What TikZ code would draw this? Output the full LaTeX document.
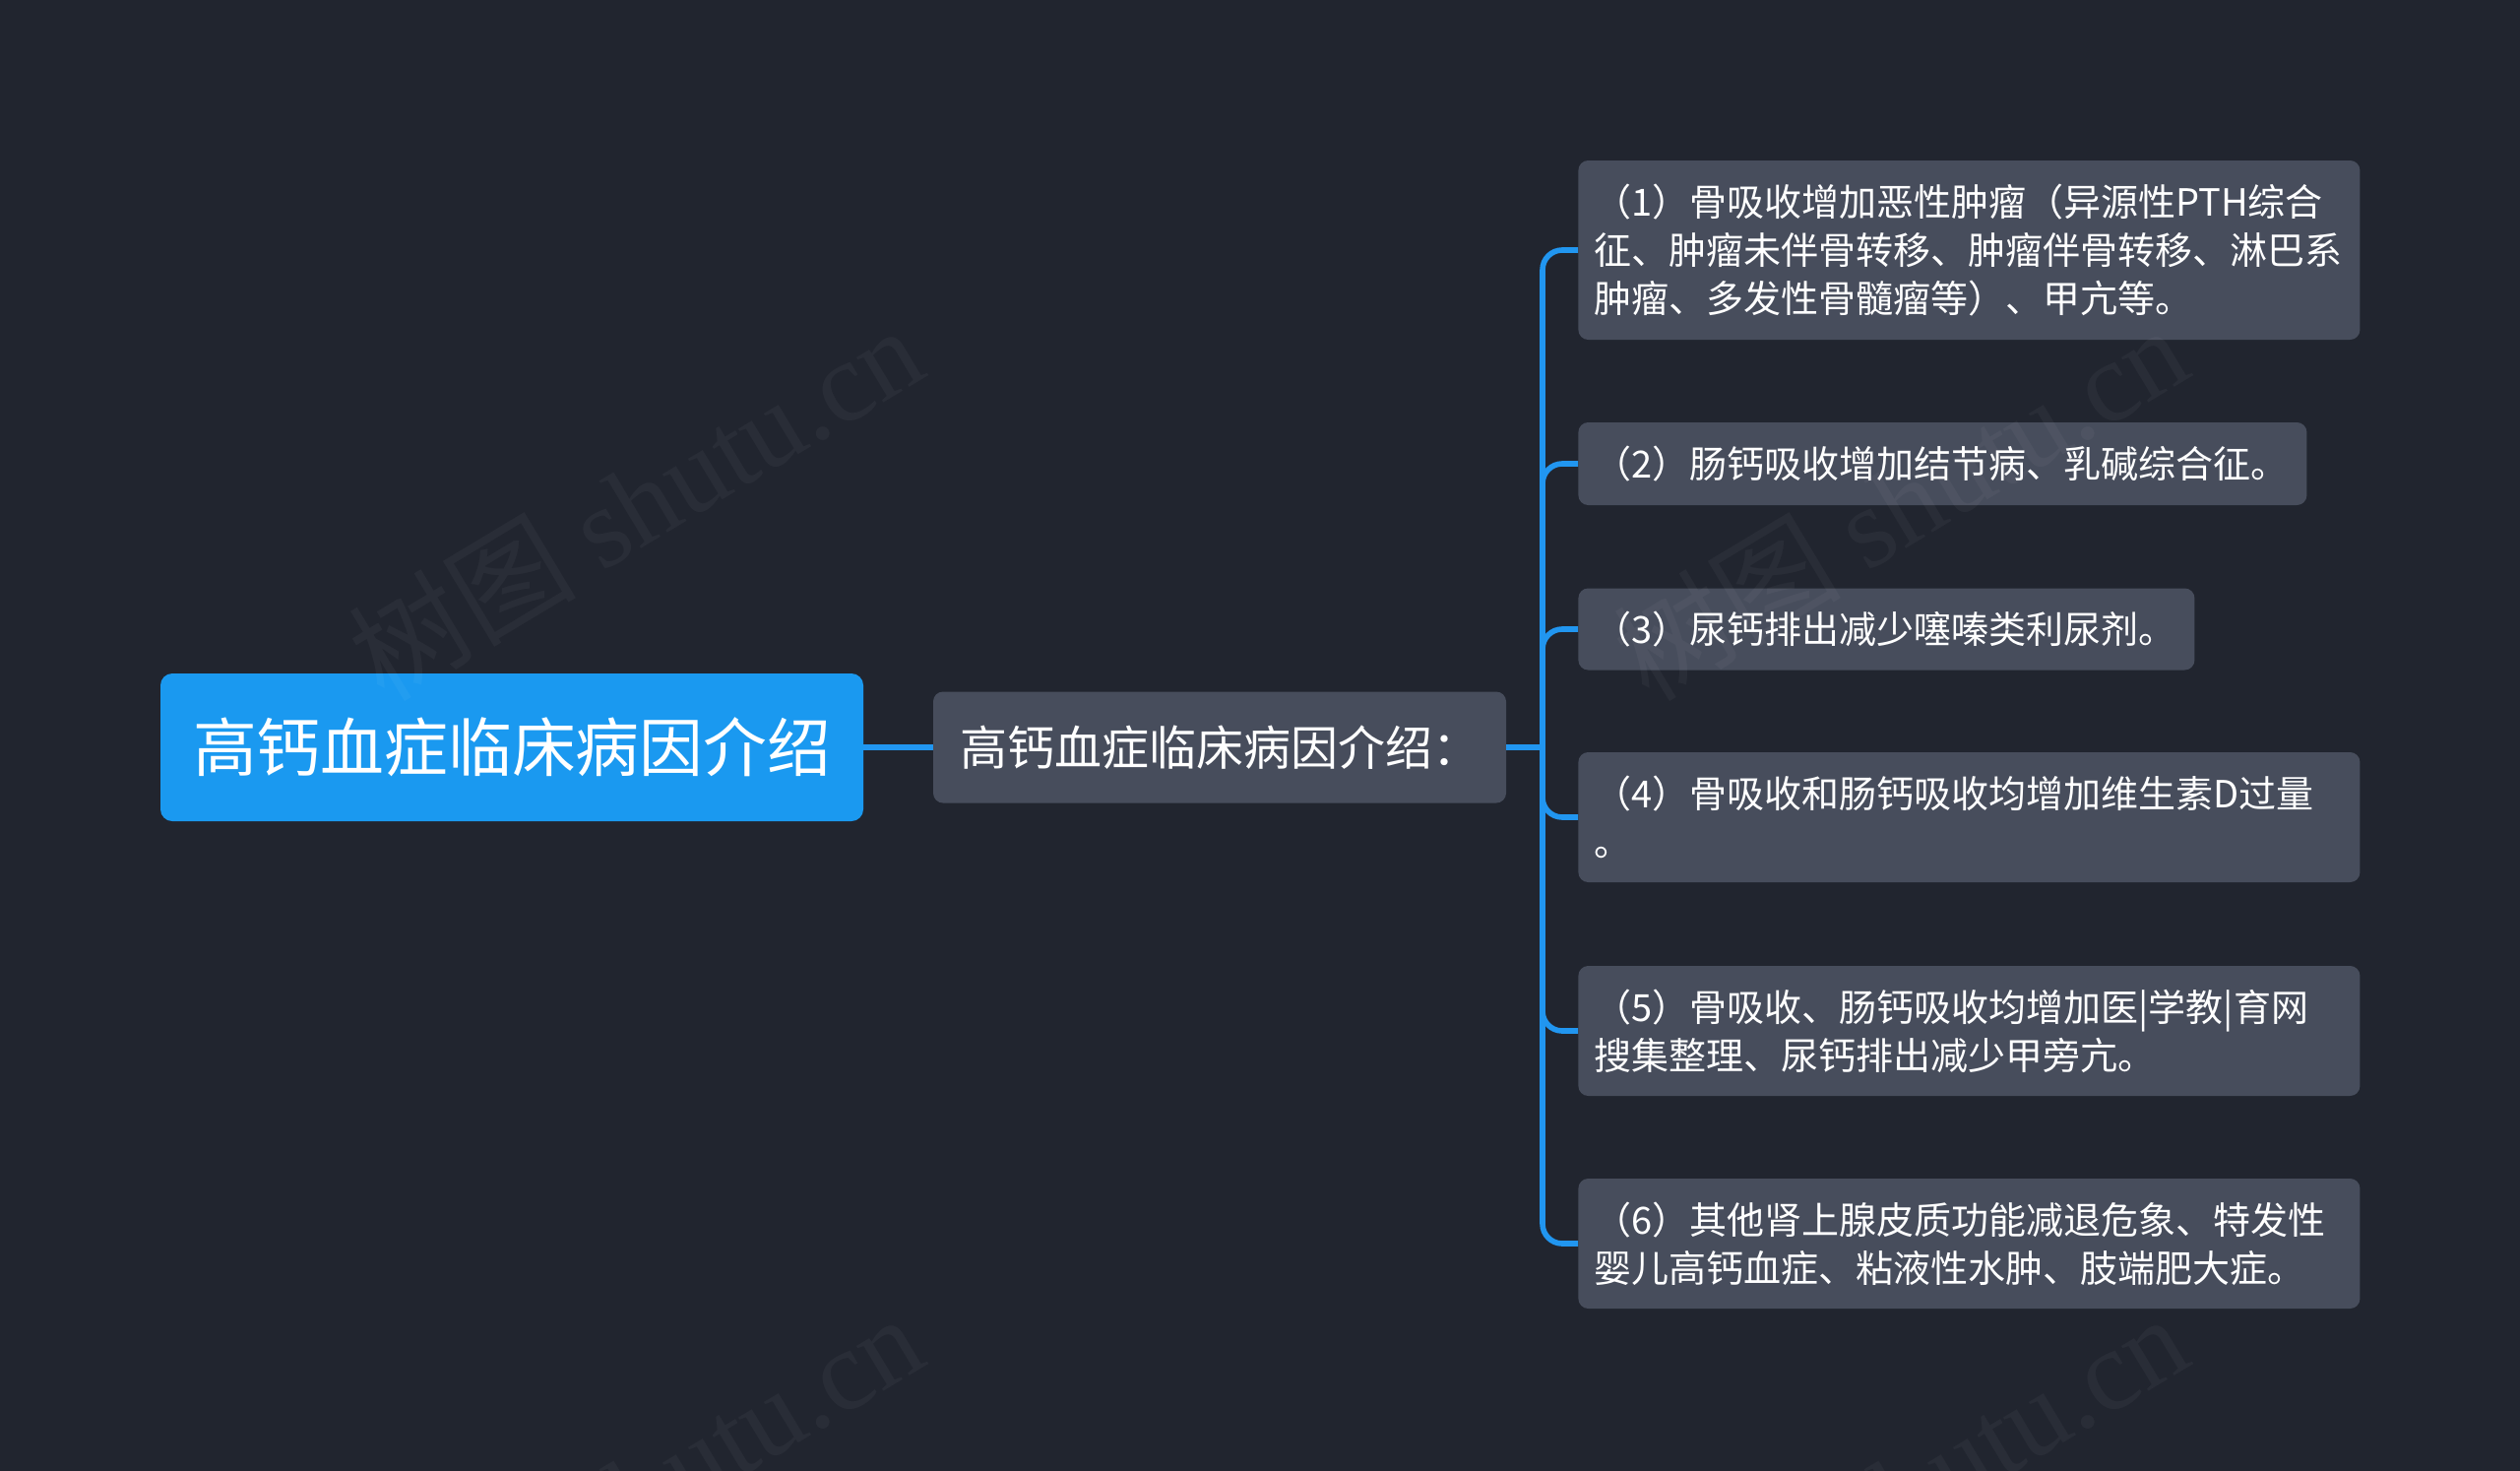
\documentclass[tikz,border=0pt]{standalone}
\usepackage{fontspec}
\setmainfont{Noto Sans CJK SC}
\newfontfamily\wmserif{Liberation Serif}
\definecolor{bgc}{HTML}{21252F}
\definecolor{itemfill}{HTML}{474D5C}
\definecolor{rootfill}{HTML}{1A99F0}
\definecolor{connc}{HTML}{2196F0}
\tikzset{
  rootbox/.style={fill=rootfill, rounded corners=6pt, text=white, inner sep=0pt,
    font=\fontsize{32.4pt}{38pt}\selectfont},
  midbox/.style={fill=itemfill, rounded corners=5pt, text=white, inner sep=0pt,
    font=\fontsize{24pt}{29pt}\selectfont},
  itembox/.style={fill=itemfill, rounded corners=5pt, text=white, anchor=west,
    align=left, inner xsep=8pt, inner ysep=0pt,
    font=\fontsize{19pt}{24.5pt}\selectfont},
  conn/.style={draw=connc, line width=2.8pt},
  wmark/.style={text=white, opacity=0.04, rotate=31, font=\fontsize{58pt}{64pt}\selectfont}
}
\begin{document}
\begin{tikzpicture}[x=0.5pt,y=-0.5pt]
\fill[bgc] (0,0) rectangle (2560,1494);
\useasboundingbox (0,0) rectangle (2560,1494);
% main nodes
\node[rootbox, minimum width=357pt, minimum height=75pt] (root) at (520,759) {高钙血症临床病因介绍};
\node[midbox, minimum width=291pt, minimum height=56.5pt] (mid) at (1239,759) {高钙血症临床病因介绍：};
\coordinate (hub) at (1567,759);
% items
\node[itembox, text width=381pt, minimum height=91pt] (b1) at (1603,254)
  {（1）骨吸收增加恶性肿瘤（异源性PTH综合\\征、肿瘤未伴骨转移、肿瘤伴骨转移、淋巴系\\肿瘤、多发性骨髓瘤等）、甲亢等。};
\node[itembox, text width=354pt, minimum height=42pt] (b2) at (1603,471)
  {（2）肠钙吸收增加结节病、乳碱综合征。};
\node[itembox, text width=297pt, minimum height=41.5pt] (b3) at (1603,639)
  {（3）尿钙排出减少噻嗪类利尿剂。};
\node[itembox, text width=381pt, minimum height=66pt] (b4) at (1603,830)
  {（4）骨吸收和肠钙吸收均增加维生素D过量\\。};
\node[itembox, text width=381pt, minimum height=66pt] (b5) at (1603,1047)
  {（5）骨吸收、肠钙吸收均增加医|学教|育网\\搜集整理、尿钙排出减少甲旁亢。};
\node[itembox, text width=381pt, minimum height=66pt] (b6) at (1603,1263)
  {（6）其他肾上腺皮质功能减退危象、特发性\\婴儿高钙血症、粘液性水肿、肢端肥大症。};
% connectors
\draw[conn] (root.east) -- (mid.west);
\draw[conn] (mid.east) -- (hub);
\foreach \b in {b1,b2,b3,b4,b5,b6}
  \draw[conn, rounded corners=10pt] (hub) |- (\b.west);
% watermarks (on top, very faint)
\node[wmark] (wm1) at (645,510) {树图 {\wmserif shutu.cn}};
\node[wmark] (wm2) at (1930,510) {树图 {\wmserif shutu.cn}};
\node[wmark] (wm3) at (645,1514) {树图 {\wmserif shutu.cn}};
\node[wmark] (wm4) at (1930,1514) {树图 {\wmserif shutu.cn}};
\end{tikzpicture}
\end{document}
